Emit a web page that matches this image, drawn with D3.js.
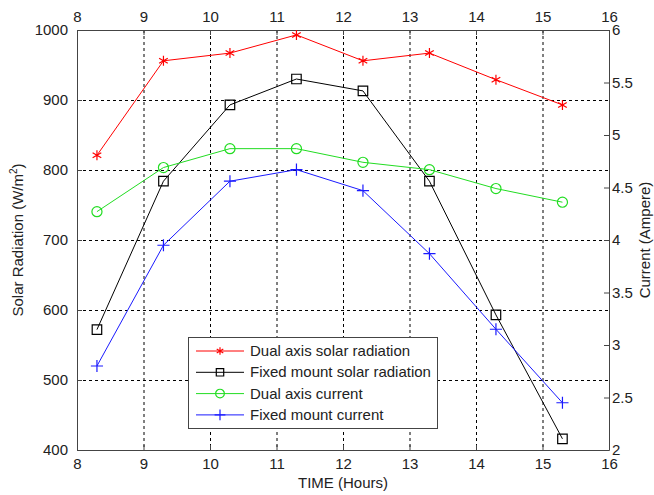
<!DOCTYPE html>
<html>
<head>
<meta charset="utf-8">
<script src="https://cdn.jsdelivr.net/npm/d3@7"></script>
<style>
  body { margin: 0; background: #fff; }
  text { font-family: "Liberation Sans", Arial, sans-serif; fill: #222; }
</style>
</head>
<body>
<div id="chart"></div>
<script>
var width = 654;
var height = 495;

// datos
var hours = [8.3, 9.3, 10.3, 11.3, 12.3, 13.3, 14.3, 15.3];
var dualRadiation = [821, 956, 967, 993, 956, 967, 929, 893];
var fixedRadiation = [572, 784, 893, 930, 913, 784, 593, 416];
var dualCurrent = [4.27, 4.69, 4.87, 4.87, 4.74, 4.67, 4.49, 4.36];
var fixedCurrent = [2.80, 3.95, 4.56, 4.67, 4.47, 3.87, 3.15, 2.45];

var xTicks = [8, 9, 10, 11, 12, 13, 14, 15, 16];
var radTicks = [400, 500, 600, 700, 800, 900, 1000];
var curTicks = [2, 2.5, 3, 3.5, 4, 4.5, 5, 5.5, 6];
var seriesNames = ["Dual axis solar radiation", "Fixed mount solar radiation", "Dual axis current", "Fixed mount current"];

var plotLeft = 77, plotRight = 609, plotTop = 30, plotBottom = 450;

var x = d3.scaleLinear().domain([8, 16]).range([plotLeft, plotRight]);
var yRad = d3.scaleLinear().domain([400, 1000]).range([plotBottom, plotTop]);
var yCur = d3.scaleLinear().domain([2, 6]).range([plotBottom, plotTop]);

var svg = d3.select("#chart")
    .append("svg")
    .attr("width", width)
    .attr("height", height);

// rejilla punteada
var grid = svg.append("g")
    .attr("stroke", "#000")
    .attr("stroke-width", 1)
    .attr("stroke-dasharray", "3,3");

grid.selectAll(".vgrid")
    .data(xTicks.slice(1, -1))
    .enter()
    .append("line")
    .attr("x1", (d) => x(d) + 0.5)
    .attr("x2", (d) => x(d) + 0.5)
    .attr("y1", plotTop)
    .attr("y2", plotBottom);

grid.selectAll(".hgrid")
    .data(radTicks.slice(1, -1))
    .enter()
    .append("line")
    .attr("x1", plotLeft)
    .attr("x2", plotRight)
    .attr("y1", (d) => yRad(d) + 0.5)
    .attr("y2", (d) => yRad(d) + 0.5);

// ejes
var fontSize = "15px";
var fmt = (d) => String(d);

var bottomAxis = svg.append("g")
    .attr("transform", "translate(0," + plotBottom + ")")
    .call(d3.axisBottom(x).tickValues(xTicks).tickFormat(fmt).tickSizeInner(-5).tickSizeOuter(0).tickPadding(8));

var topAxis = svg.append("g")
    .attr("transform", "translate(0," + plotTop + ")")
    .call(d3.axisTop(x).tickValues(xTicks).tickFormat(fmt).tickSizeInner(-5).tickSizeOuter(0).tickPadding(8));

var leftAxis = svg.append("g")
    .attr("transform", "translate(" + plotLeft + ",0)")
    .call(d3.axisLeft(yRad).tickValues(radTicks).tickFormat(fmt).tickSizeInner(-5).tickSizeOuter(0).tickPadding(9));

var rightAxis = svg.append("g")
    .attr("transform", "translate(" + plotRight + ",0)")
    .call(d3.axisRight(yCur).tickValues(curTicks).tickFormat(fmt).tickSizeInner(-5).tickSizeOuter(0).tickPadding(3));

[bottomAxis, topAxis, leftAxis, rightAxis].forEach(function (g) {
    g.selectAll("text").style("font-size", fontSize).attr("fill", "#222");
    g.selectAll("line").attr("stroke", "#444");
    g.select(".domain").attr("stroke", "#444");
});

// series
function drawSeries(values, yScale, color, symbolType, symbolSize) {
    var pts = hours.map((h, i) => [x(h), yScale(values[i])]);
    svg.append("path")
        .datum(pts)
        .attr("d", d3.line())
        .attr("fill", "none")
        .attr("stroke", color)
        .attr("stroke-width", 1);
    svg.append("g")
        .selectAll("path")
        .data(pts)
        .enter()
        .append("path")
        .attr("transform", (d) => "translate(" + d[0] + "," + d[1] + ")")
        .attr("d", d3.symbol().type(symbolType).size(symbolSize))
        .attr("fill", "none")
        .attr("stroke", color)
        .attr("stroke-width", 1.2);
}

drawSeries(dualRadiation, yRad, "#ff0000", d3.symbolAsterisk, 70);
drawSeries(fixedRadiation, yRad, "#000000", d3.symbolSquare2, 115);
drawSeries(dualCurrent, yCur, "#22dd22", d3.symbolCircle, 80);
drawSeries(fixedCurrent, yCur, "#1a1aff", d3.symbolPlus, 50);

// leyenda
var legend = svg.append("g");
legend.append("rect")
    .attr("x", 188.5)
    .attr("y", 337.5)
    .attr("width", 249)
    .attr("height", 91)
    .attr("fill", "#fff")
    .attr("stroke", "#444")
    .attr("stroke-width", 1);

var legendColors = ["#ff0000", "#000000", "#22dd22", "#1a1aff"];
var legendSymbols = [d3.symbolAsterisk, d3.symbolSquare2, d3.symbolCircle, d3.symbolPlus];
var legendSizes = [40, 70, 60, 40];

seriesNames.forEach(function (name, i) {
    var yy = 351 + i * 21.3;
    legend.append("line")
        .attr("x1", 196).attr("x2", 244)
        .attr("y1", yy).attr("y2", yy)
        .attr("stroke", legendColors[i])
        .attr("stroke-width", 1);
    legend.append("path")
        .attr("transform", "translate(220," + yy + ")")
        .attr("d", d3.symbol().type(legendSymbols[i]).size(legendSizes[i]))
        .attr("fill", "none")
        .attr("stroke", legendColors[i])
        .attr("stroke-width", 1.2);
    legend.append("text")
        .attr("x", 250)
        .attr("y", yy + 5)
        .style("font-size", fontSize)
        .text(name);
});

// titulos de ejes
svg.append("text")
    .attr("x", (plotLeft + plotRight) / 2)
    .attr("y", 488)
    .attr("text-anchor", "middle")
    .style("font-size", fontSize)
    .text("TIME (Hours)");

var yLabel = svg.append("text")
    .attr("transform", "translate(23," + (plotTop + plotBottom) / 2 + ") rotate(-90)")
    .attr("text-anchor", "middle")
    .style("font-size", fontSize);
yLabel.append("tspan").text("Solar Radiation (W/m");
yLabel.append("tspan").attr("dy", -6).style("font-size", "10px").text("2");
yLabel.append("tspan").attr("dy", 6).text(")");

svg.append("text")
    .attr("transform", "translate(650," + (plotTop + plotBottom) / 2 + ") rotate(-90)")
    .attr("text-anchor", "middle")
    .style("font-size", fontSize)
    .text("Current (Ampere)");
</script>
</body>
</html>
